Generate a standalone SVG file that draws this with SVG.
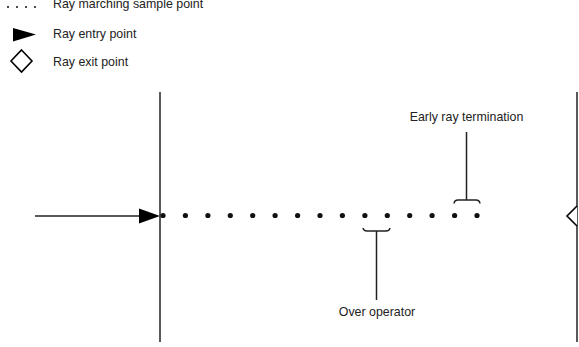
<svg xmlns="http://www.w3.org/2000/svg" width="579" height="347" viewBox="0 0 579 347">
<style>
text{font-family:"Liberation Sans",Arial,sans-serif;font-size:12.4px;fill:#222}
.ln{stroke:#222;stroke-width:1.5;fill:none}
.dot{fill:#111}
</style>
<rect width="579" height="347" fill="#fff"/>
<g id="legend">
  <g id="legend-sample">
    <circle class="dot" cx="8" cy="7" r="1"/><circle class="dot" cx="17" cy="7" r="1"/><circle class="dot" cx="26" cy="7" r="1"/><circle class="dot" cx="35" cy="7" r="1"/>
    <text x="53" y="7.5">Ray marching sample point</text>
  </g>
  <g id="legend-entry">
    <path d="M13,28 L36,34.5 L13,41.5 Z" fill="#000"/>
    <text x="53" y="37.5">Ray entry point</text>
  </g>
  <g id="legend-exit">
    <path d="M21.5,50 L32,61 L21.5,72 L11,61 Z" fill="#fff" stroke="#000" stroke-width="1.6"/>
    <text x="53" y="66">Ray exit point</text>
  </g>
</g>
<g id="connectors">
  <line class="ln" x1="160" y1="92" x2="160" y2="342"/>
  <line class="ln" x1="577" y1="92" x2="577" y2="342"/>
  <line class="ln" x1="35" y1="216" x2="145" y2="216"/>
  <path d="M139,208.5 L160,216 L139,223.5 Z" fill="#000"/>
  <path d="M466.5,132 L466.5,200 M454,203.5 Q454.5,200 458,200 L476,200 Q479.5,200 480,203.5" class="ln"/>
  <path d="M376.5,300 L376.5,231 M363,228 Q363.5,231 367,231 L386,231 Q389.5,231 390,228" class="ln"/>
</g>
<g id="samples">
  <circle class="dot" cx="163" cy="215.5" r="2.6"/>
  <circle class="dot" cx="185.4" cy="215.5" r="2.6"/>
  <circle class="dot" cx="207.9" cy="215.5" r="2.6"/>
  <circle class="dot" cx="230.3" cy="215.5" r="2.6"/>
  <circle class="dot" cx="252.7" cy="215.5" r="2.6"/>
  <circle class="dot" cx="275.1" cy="215.5" r="2.6"/>
  <circle class="dot" cx="297.6" cy="215.5" r="2.6"/>
  <circle class="dot" cx="320" cy="215.5" r="2.6"/>
  <circle class="dot" cx="342.4" cy="215.5" r="2.6"/>
  <circle class="dot" cx="364.9" cy="215.5" r="2.6"/>
  <circle class="dot" cx="387.3" cy="215.5" r="2.6"/>
  <circle class="dot" cx="409.7" cy="215.5" r="2.6"/>
  <circle class="dot" cx="432.1" cy="215.5" r="2.6"/>
  <circle class="dot" cx="454.6" cy="215.5" r="2.6"/>
  <circle class="dot" cx="477" cy="215.5" r="2.6"/>
</g>
<g id="exit-point">
  <path d="M577,206 L567,216 L577,226" fill="#fff" stroke="#000" stroke-width="1.6"/>
</g>
<g id="label-early">
  <text x="466.5" y="121" text-anchor="middle">Early ray termination</text>
</g>
<g id="label-over">
  <text x="377" y="316" text-anchor="middle">Over operator</text>
</g>
</svg>
